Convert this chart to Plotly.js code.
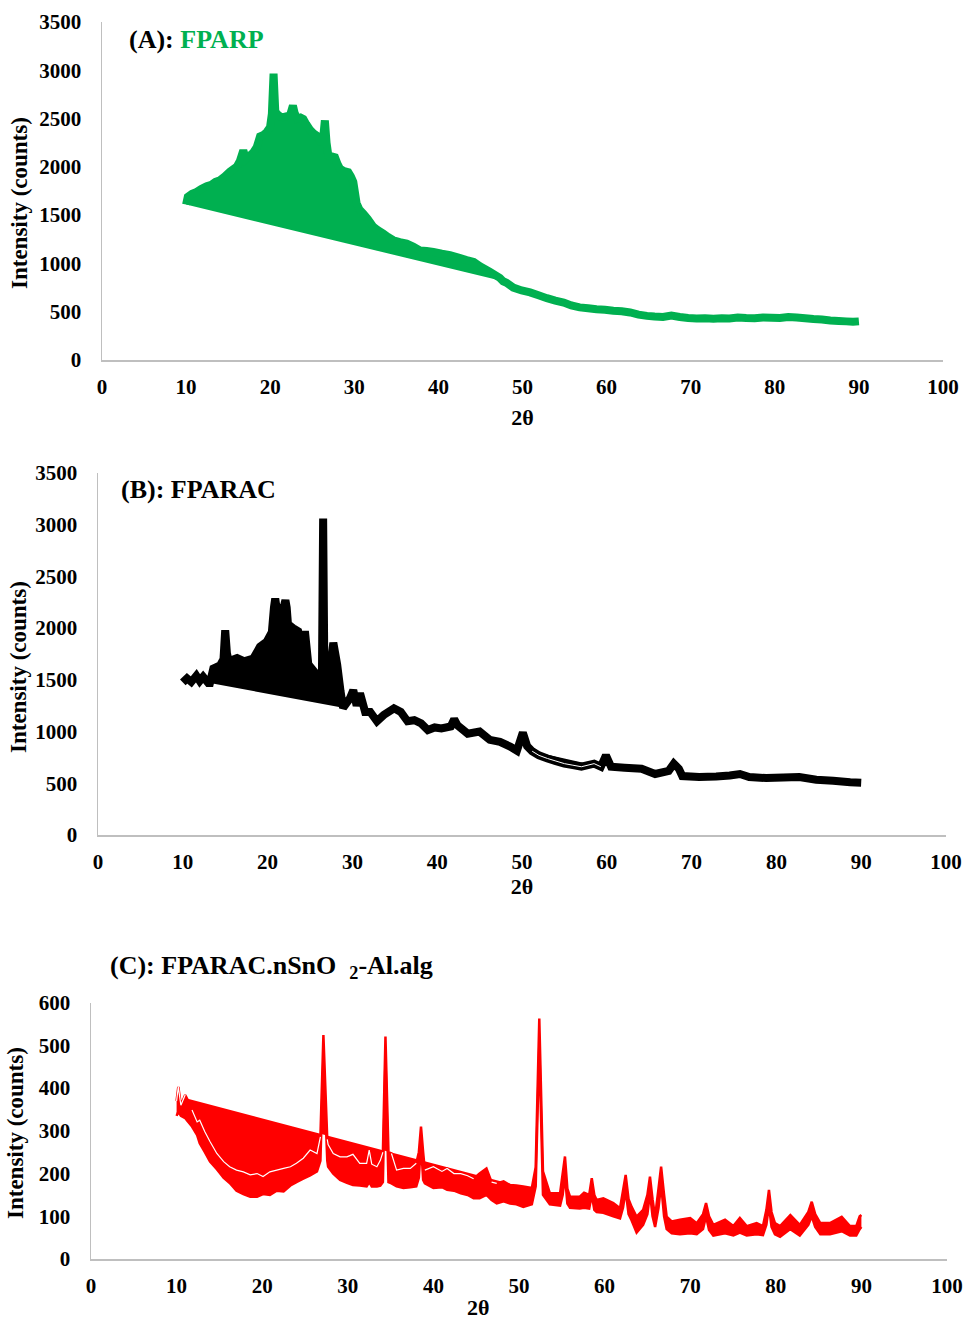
<!DOCTYPE html>
<html>
<head>
<meta charset="utf-8">
<script src="https://cdn.plot.ly/plotly-3.0.1.min.js"></script>
<style>html,body{margin:0;padding:0;background:#fff;}#chart{width:966px;height:1320px;}</style>
</head>
<body>
<div id="chart"></div>
<script>
// ---------- Panel A: FPARP ----------
const aX = [10.0,10.2,10.7,11.26,11.8,12.45,13.0,13.5,14.03,14.6,
  15.22,15.6,16.01,16.4,16.8,17.1,17.5,18.0,18.4,18.79,
  19.2,19.58,19.98,20.2,20.4,20.6,20.77,21.2,21.56,22.0,
  22.35,22.7,22.9,23.2,23.6,23.94,24.3,24.73,25.1,25.53,
  25.9,26.12,26.3,26.5,26.7,26.91,27.3,27.7,28.0,28.3,
  28.8,29.29,29.6,29.88,30.28,30.6,31.07,31.6,32.26,32.8,
  33.45,34.0,34.64,35.4,36.23,37.0,37.81,38.6,39.4,40.4,
  41.38,42.4,43.36,44.2,44.95,46.1,47.3,47.7,48.1,48.9,
  49.9,50.9,51.9,52.9,53.9,54.9,55.8,56.8,57.8,58.8,
  59.8,60.8,61.8,62.8,63.8,64.8,65.7,66.7,67.7,68.7,
  69.7,70.7,71.7,72.7,73.7,74.6,75.6,76.6,77.6,78.6,
  79.6,80.6,81.6,82.6,83.6,84.6,85.6,86.6,87.6,88.5,
  89.3,90.0];
const aInt = [1610,1690,1720,1740,1770,1800,1815,1845,1862,1900,
  1950,1975,2000,2060,2170,2080,2110,2150,2205,2315,
  2330,2360,2410,2550,2965,2580,2550,2520,2515,2525,
  2530,2635,2560,2500,2510,2495,2440,2385,2350,2325,
  2270,2240,2300,2480,2250,2120,2110,2100,2030,1980,
  1955,1945,1900,1845,1620,1560,1515,1460,1380,1345,
  1310,1275,1240,1220,1205,1175,1135,1130,1120,1100,
  1085,1060,1035,1015,970,915,850,815,800,750,
  720,700,670,640,615,595,565,545,535,525,
  520,510,505,492,470,457,450,445,460,445,
  435,430,432,428,432,430,440,435,432,440,
  438,435,445,440,432,425,420,410,405,400,
  395,400];

// ---------- Panel B: FPARAC ----------
const bX = [10.0,10.5,11.0,11.6,12.0,12.4,13.0,13.2,13.6,14.4,
  14.8,15.0,15.2,15.4,16.4,17.2,18.3,19.1,19.9,20.5,
  20.75,20.9,21.05,21.3,21.7,21.95,22.1,22.25,22.4,23.0,
  23.6,24.0,24.4,24.8,25.6,26.0,26.4,26.55,26.7,27.0,
  27.4,27.75,28.2,28.6,28.9,29.7,30.1,30.5,30.9,31.5,
  32.1,32.9,33.7,34.9,35.7,36.5,37.3,38.1,38.9,39.7,
  40.5,41.6,42.0,42.4,43.6,45.0,46.2,47.4,48.6,49.4,
  50.1,50.6,51.2,52.0,53.0,54.0,55.0,56.0,57.0,58.5,
  59.3,59.9,60.5,62.1,64.1,65.7,67.3,67.9,68.5,68.9,
  70.9,72.9,74.5,75.7,76.8,78.8,80.8,82.7,84.7,86.7,
  88.7,90.0];
const bInt = [1475,1515,1480,1540,1490,1530,1470,1470,1610,1640,
  1700,1980,1760,1680,1710,1680,1705,1820,1870,1960,
  2200,2285,2200,2130,2150,2220,2270,2200,2040,2000,
  1970,1810,1970,1650,1570,1500,1450,3060,1500,1520,
  1620,1860,1650,1390,1230,1320,1400,1250,1370,1190,
  1190,1100,1160,1225,1190,1100,1110,1080,1015,1040,
  1030,1050,1120,1060,980,1000,920,900,855,815,
  990,860,810,770,740,715,690,675,660,690,
  660,770,660,650,640,590,620,690,640,570,
  560,565,575,590,560,550,555,560,535,525,
  510,505];

// ---------- Panel C: FPARAC.nSnO2-Al.alg (upper / lower edge of the noisy trace) ----------
const cX = [10.0,10.2,10.5,11.0,11.2,11.8,12.4,12.7,13.3,13.9,
  14.7,15.5,16.2,17.0,17.8,18.6,19.4,20.1,20.9,21.7,
  22.5,23.3,24.0,24.8,25.6,26.4,26.8,27.15,27.6,27.7,
  28.3,29.1,29.9,30.6,31.4,32.2,32.5,32.8,33.4,33.8,
  34.1,34.4,34.75,35.1,35.7,36.5,37.3,38.0,38.3,38.55,
  38.8,39.0,40.0,41.0,41.6,42.4,43.2,44.0,44.7,45.4,
  46.2,46.8,47.4,48.2,48.95,49.7,50.5,51.5,51.95,52.37,
  52.8,53.6,54.8,55.1,55.37,55.65,55.96,57.1,57.6,58.2,
  58.5,58.8,59.07,59.85,61.02,61.8,62.15,62.46,62.8,63.16,
  63.74,64.5,65.0,65.3,65.6,65.9,66.3,66.6,66.95,67.25,
  67.84,68.8,70.0,70.76,71.5,71.85,72.2,72.7,74.07,75.04,
  75.8,76.6,77.76,78.5,78.9,79.2,79.5,79.9,80.5,81.7,
  82.8,83.8,84.2,84.6,85.2,86.33,87.7,88.66,89.4,89.8,
  90.0];
const cHi = [370,403,360,384,376,349,321,325,298,275,
  247,228,216,208,204,197,200,193,204,208,
  212,216,224,236,255,247,286,524,280,268,
  247,239,239,245,224,224,255,222,216,231,
  250,521,250,247,208,212,212,224,250,310,
  250,208,216,205,212,200,200,195,188,200,
  212,180,177,182,173,172,170,166,215,563,
  205,154,154,200,240,165,146,146,155,150,
  189,150,138,142,131,119,160,197,140,122,
  99,115,150,193,140,99,165,216,150,99,
  88,92,96,84,105,131,100,80,92,77,
  96,77,84,77,115,162,110,84,77,103,
  80,110,134,105,84,84,99,77,77,100,
  103];
const cLo = [335,345,335,330,325,310,290,271,250,228,
  210,190,178,160,152,146,146,152,150,160,
  158,172,180,188,196,205,230,470,230,216,
  200,185,178,173,172,170,180,170,170,172,
  180,470,180,177,170,166,168,170,190,270,
  185,177,166,168,162,160,154,150,142,142,
  150,138,130,135,130,128,122,128,170,500,
  150,128,125,150,195,130,120,118,120,118,
  150,115,110,108,100,95,120,160,105,90,
  62,80,105,155,100,75,120,175,100,70,
  60,58,60,58,70,100,68,55,60,55,
  62,55,58,56,80,125,75,58,52,70,
  55,80,100,75,58,58,65,55,55,70,
  75];

const xTicks = [0,10,20,30,40,50,60,70,80,90,100];

// ---------- styling / helpers ----------
const GREEN = '#00b050', BLACK = '#000000', RED = '#ff0000';
const W = 966, H = 1320;
const FONT = '"Liberation Serif", "Times New Roman", Times, serif';

function seg(xs, ys, lo, hi) {
  const ox = [], oy = [];
  for (let i = 0; i < xs.length; i++) if (xs[i] >= lo && xs[i] <= hi) { ox.push(xs[i]); oy.push(ys[i]); }
  return {x: ox, y: oy};
}
function chordFill(s, color, xa, ya) {
  return {x: s.x, y: s.y, xaxis: xa, yaxis: ya, mode: 'lines', fill: 'toself', fillcolor: color,
          line: {width: 0, color: 'rgba(0,0,0,0)', simplify: false}, hoverinfo: 'skip'};
}
function line(xs, ys, color, width, xa, ya) {
  return {x: xs, y: ys, xaxis: xa, yaxis: ya, mode: 'lines',
          line: {color: color, width: width, simplify: false}, connectgaps: false};
}

const traces = [];
// A
traces.push(chordFill(seg(aX, aInt, 10.0, 47.7), GREEN, 'x', 'y'));
traces.push(line(aX, aInt, GREEN, 8, 'x', 'y'));
// B
traces.push(chordFill(seg(bX, bInt, 13.2, 28.9), BLACK, 'x2', 'y2'));
const bSeg2 = seg(bX, bInt, 51.2, 59.3);
traces.push(chordFill(bSeg2, BLACK, 'x2', 'y2'));
traces.push(line(bX, bInt, BLACK, 8, 'x2', 'y2'));
traces.push(line(bSeg2.x, bSeg2.y, '#ffffff', 1, 'x2', 'y2'));
// C
const bandX = cX.concat(cX.slice().reverse());
const bandY = cHi.concat(cLo.slice().reverse());
traces.push({x: bandX, y: bandY, xaxis: 'x3', yaxis: 'y3', mode: 'lines', fill: 'toself', fillcolor: RED,
             line: {width: 0, color: 'rgba(0,0,0,0)', simplify: false}, hoverinfo: 'skip'});
const cF = seg(cX, cHi, 11.2, 49.7);
traces.push(chordFill(cF, RED, 'x3', 'y3'));
traces.push(line(cX, cHi, RED, 2.5, 'x3', 'y3'));
traces.push(line(cX, cLo, RED, 2.5, 'x3', 'y3'));
// thin white edge along the upper trace under the chord fill
const x0 = cF.x[0], y0 = cF.y[0], x1 = cF.x[cF.x.length - 1], y1 = cF.y[cF.y.length - 1];
const wS = seg(cX, cHi, 10.0, 49.7);
const wY = wS.y.map((v, i) => {
  const xx = wS.x[i];
  if (xx < x0) return v;
  const ch = y0 + (y1 - y0) * (xx - x0) / (x1 - x0);
  return v > ch - 2 ? null : v;
});
traces.push(line(wS.x, wY, '#ffffff', 1.2, 'x3', 'y3'));

const tickFont = {family: FONT, size: 21, color: '#000', weight: 'bold'};
const titleFont = {family: FONT, size: 22, color: '#000', weight: 'bold'};
const yTitleFont = {family: FONT, size: 23, color: '#000', weight: 'bold'};
function xAxis(l, r, anchor, title) {
  const ax = {domain: [l / W, r / W], range: [0, 100], anchor: anchor, tickmode: 'array', tickvals: xTicks,
    showline: true, linecolor: '#bfbfbf', linewidth: 1.5, showgrid: false, zeroline: false, ticks: '',
    tickfont: tickFont, ticklabelstandoff: 7, fixedrange: true};
  if (title) ax.title = {text: title.text, font: titleFont, standoff: title.standoff};
  return ax;
}
function yAxis(top, bottom, anchor, max, dt) {
  return {domain: [1 - bottom / H, 1 - top / H], range: [0, max], anchor: anchor, dtick: dt, tick0: 0,
    showline: true, linecolor: '#bfbfbf', linewidth: 1.5, showgrid: false, zeroline: false, ticks: '',
    tickfont: tickFont, ticklabelstandoff: 15, fixedrange: true};
}
function yTitle(xc, yc) {
  return {xref: 'paper', yref: 'paper', x: xc / W, y: 1 - yc / H, xanchor: 'center', yanchor: 'middle',
          textangle: -90, showarrow: false, text: 'Intensity (counts)', font: yTitleFont};
}
function panelTitle(x, y, text) {
  return {xref: 'paper', yref: 'paper', x: x / W, y: 1 - y / H, xanchor: 'left', yanchor: 'middle', showarrow: false,
          text: text, font: {family: FONT, size: 26, color: '#000', weight: 'bold'}};
}

const layout = {
  width: W, height: H, margin: {l: 0, r: 0, t: 0, b: 0}, showlegend: false,
  paper_bgcolor: '#ffffff', plot_bgcolor: 'rgba(0,0,0,0)',
  font: {family: FONT, size: 22, color: '#000'},
  xaxis: xAxis(102, 943, 'y', {text: '2θ', standoff: 12}),
  yaxis: yAxis(22, 360, 'x', 3500, 500),
  xaxis2: xAxis(98, 946, 'y2', {text: '2θ', standoff: 5}),
  yaxis2: yAxis(473, 835, 'x2', 3500, 500),
  xaxis3: xAxis(91, 947, 'y3', null),
  yaxis3: yAxis(1002.7, 1259, 'x3', 600, 100),
  annotations: [
    panelTitle(127, 40, '(A): <span style="color:#00b050">FPARP</span>'),
    panelTitle(119, 489, '(B): FPARAC'),
    panelTitle(108, 967, '(C): FPARAC.nSnO\u00a0\u00a0<sub>2</sub>-Al.alg'),
    {xref: 'paper', yref: 'paper', x: 478 / W, y: 1 - 1307 / H, xanchor: 'center', yanchor: 'middle', showarrow: false,
     text: '2θ', font: titleFont},
    yTitle(19, 203),
    yTitle(19, 667),
    yTitle(15, 1133)
  ]
};

Plotly.newPlot('chart', traces, layout, {staticPlot: true, displayModeBar: false});
</script>
</body>
</html>
